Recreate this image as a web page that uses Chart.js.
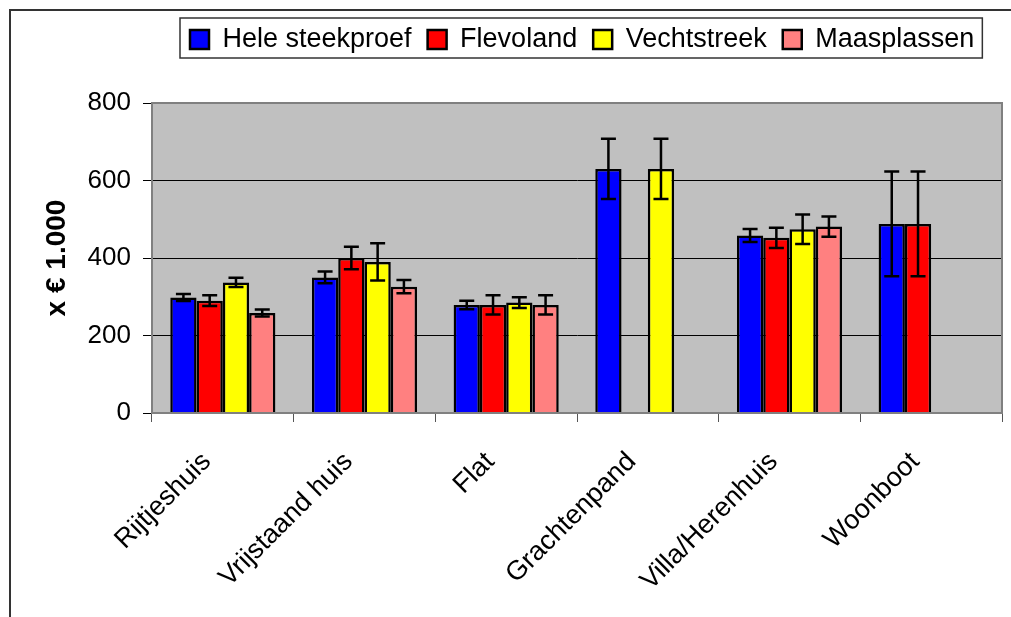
<!DOCTYPE html>
<html>
<head>
<meta charset="utf-8">
<script src="https://cdn.jsdelivr.net/npm/chart.js@4/dist/chart.umd.min.js"></script>
<style>
    body { margin: 0; background: #ffffff; }
    #frame {
        position: absolute; left: 9px; top: 9px;
        width: 1100px; height: 700px;
        border-left: 2px solid #333; border-top: 2px solid #333;
    }
    #wrap { position: absolute; left: 0; top: 0; width: 1000px; height: 606px; }
</style>
</head>
<body>
<div id="frame"><div id="wrap"><canvas id="chart"></canvas></div></div>
<script>
// Woningtypes on the x axis
const categories = ['Rijtjeshuis', 'Vrijstaand huis', 'Flat', 'Grachtenpand', 'Villa/Herenhuis', 'Woonboot'];

// mean price (x € 1.000) and error margin per region
const heleSteekproef = [298, 350, 279, 630, 458, 488];
const heleErr = [9, 15, 11, 78, 17, 135];
const flevoland = [290, 400, 279, null, 452, 488];
const flevoErr = [14, 29, 25, null, 26, 135];
const vechtstreek = [337, 390, 285, 630, 474, null];
const vechtErr = [12, 48, 14, 78, 38, null];
const maasplassen = [258, 326, 279, null, 481, null];
const maasErr = [9, 17, 25, null, 26, null];

const yTicks = [0, 200, 400, 600, 800];
const fontFamily = '"Liberation Sans", Arial, sans-serif';
const legendPad = 16;

// grey plot background + border
const plotArea = {
    id: 'plotArea',
    beforeDraw(chart) {
        const a = chart.chartArea;
        const ctx = chart.ctx;
        ctx.save();
        ctx.fillStyle = '#C0C0C0';
        ctx.fillRect(a.left, a.top, a.right - a.left, a.bottom - a.top);
        ctx.restore();
    },
    afterDraw(chart) {
        const a = chart.chartArea;
        const ctx = chart.ctx;
        ctx.save();
        ctx.strokeStyle = '#808080';
        ctx.lineWidth = 2;
        ctx.strokeRect(a.left, a.top, a.right - a.left, a.bottom - a.top);
        ctx.restore();
    }
};

// error bars drawn from the y scale
const errorBars = {
    id: 'errorBars',
    afterDatasetsDraw(chart) {
        const ctx = chart.ctx;
        const y = chart.scales.y;
        ctx.save();
        ctx.strokeStyle = '#000';
        ctx.lineWidth = 2.5;
        chart.data.datasets.forEach((ds, i) => {
            const meta = chart.getDatasetMeta(i);
            meta.data.forEach((bar, j) => {
                const v = ds.data[j];
                const e = ds.errors[j];
                if (v == null || e == null) return;
                const top = y.getPixelForValue(v + e);
                const bot = y.getPixelForValue(v - e);
                ctx.beginPath();
                ctx.moveTo(bar.x, top); ctx.lineTo(bar.x, bot);
                ctx.moveTo(bar.x - 7.5, top); ctx.lineTo(bar.x + 7.5, top);
                ctx.moveTo(bar.x - 7.5, bot); ctx.lineTo(bar.x + 7.5, bot);
                ctx.stroke();
            });
        });
        ctx.restore();
    }
};

// move legend up/right and draw a box round it
const legendBox = {
    id: 'legendBox',
    afterLayout(chart) {
        const lg = chart.legend;
        if (!lg) return;
        const w = lg.right - lg.left;
        const h = lg.bottom - lg.top;
        lg.left = 179 - legendPad;
        lg.right = lg.left + w;
        lg.top = 29 - legendPad - 14;
        lg.bottom = lg.top + h;
    },
    afterDraw(chart) {
        const lg = chart.legend;
        if (!lg || !lg.lineWidths) return;
        const ctx = chart.ctx;
        const x0 = lg.left + legendPad - 10;
        ctx.save();
        ctx.strokeStyle = '#333';
        ctx.lineWidth = 1.5;
        ctx.strokeRect(x0, 7, lg.lineWidths[0] - legendPad + 18, 40);
        ctx.restore();
    }
};

function makeSet(label, data, errors, color) {
    return {
        label: label,
        data: data,
        errors: errors,
        backgroundColor: color,
        borderColor: '#000',
        borderWidth: 2.5,
        categoryPercentage: 0.742,
        barPercentage: 1.0
    };
}

try {
new Chart(document.getElementById('chart'), {
    type: 'bar',
    data: {
        labels: categories,
        datasets: [
            makeSet('Hele steekproef', heleSteekproef, heleErr, '#0000FF'),
            makeSet('Flevoland', flevoland, flevoErr, '#FF0000'),
            makeSet('Vechtstreek', vechtstreek, vechtErr, '#FFFF00'),
            makeSet('Maasplassen', maasplassen, maasErr, '#FF8080')
        ]
    },
    options: {
        responsive: true,
        maintainAspectRatio: false,
        animation: false,
        layout: { padding: { top: 39, right: 9, left: 0, bottom: 0 } },
        plugins: {
            legend: {
                position: 'top',
                align: 'start',
                labels: {
                    boxWidth: 19,
                    boxHeight: 19,
                    padding: legendPad,
                    color: '#000',
                    font: { family: fontFamily, size: 27 }
                }
            },
            tooltip: { enabled: false }
        },
        scales: {
            x: {
                offset: true,
                afterFit: function(scale) { scale.height = 204; },
                grid: {
                    offset: true,
                    drawOnChartArea: false,
                    drawTicks: true,
                    tickLength: 9,
                    tickColor: '#555'
                },
                border: { display: true, color: '#808080', width: 2 },
                ticks: {
                    minRotation: 45,
                    maxRotation: 45,
                    labelOffset: -16,
                    color: '#000',
                    padding: 24,
                    font: { family: fontFamily, size: 27 }
                }
            },
            y: {
                min: yTicks[0],
                max: yTicks[yTicks.length - 1],
                afterFit: function(scale) { scale.width = 141; },
                grid: {
                    color: '#000',
                    lineWidth: 1,
                    tickLength: 9,
                    tickColor: '#000'
                },
                border: { display: true, color: '#808080', width: 2 },
                ticks: {
                    stepSize: yTicks[1] - yTicks[0],
                    color: '#000',
                    padding: 12,
                    font: { family: fontFamily, size: 26 }
                },
                title: {
                    display: true,
                    text: 'x € 1.000',
                    color: '#000',
                    padding: { top: 29, bottom: 0 },
                    font: { family: fontFamily, size: 28, weight: 'bold' }
                }
            }
        }
    },
    plugins: [plotArea, errorBars, legendBox]
});
} catch (err) {
    document.body.insertAdjacentText('beforeend', String(err && err.stack));
}
</script>
</body>
</html>
